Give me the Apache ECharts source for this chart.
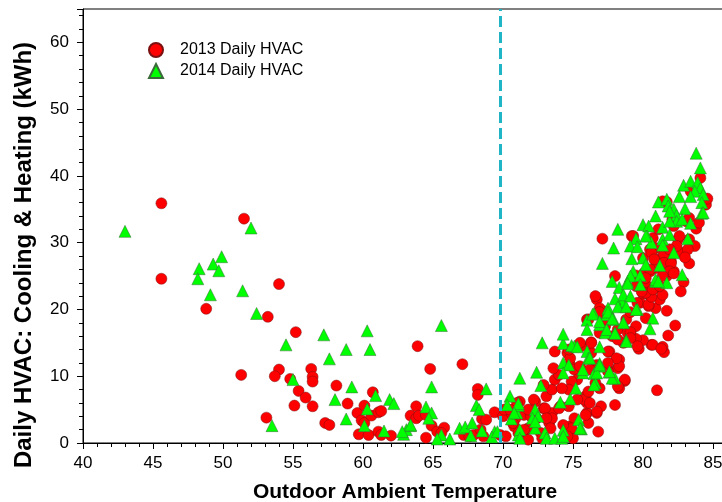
<!DOCTYPE html>
<html>
<head>
<meta charset="utf-8">
<title>Daily HVAC vs Outdoor Temperature</title>
<script src="https://cdn.jsdelivr.net/npm/echarts@6/dist/echarts.min.js"></script>
<style>
  html, body { margin: 0; padding: 0; background: #fff; }
  #chart { width: 722px; height: 502px; }
</style>
</head>
<body>
<div id="chart"></div>
<script>
// [temperature, kWh]
var cold2013 = [
  [45.6, 35.9], [45.6, 24.6], [48.8, 20.1], [51.5, 33.6], [54.0, 23.8], [53.2, 18.9],
  [55.2, 16.6], [51.3, 10.2], [54.0, 11.0], [53.7, 10.0], [54.8, 9.6], [56.3, 11.1],
  [56.4, 9.9], [56.4, 9.2], [55.4, 7.8], [55.9, 6.8], [55.1, 5.6], [56.4, 5.5],
  [53.1, 3.8], [57.3, 3.0], [57.6, 2.7], [58.1, 8.6], [58.9, 5.9], [59.6, 4.5],
  [60.1, 5.6], [59.9, 3.4], [60.1, 3.0], [60.6, 4.1], [61.1, 4.6], [61.3, 4.8],
  [59.7, 1.3], [60.4, 1.2], [61.1, 1.7], [61.3, 1.2], [62.0, 1.1], [63.4, 4.1],
  [63.8, 3.7], [63.9, 14.5], [64.8, 11.1], [67.1, 11.8], [60.7, 7.6], [63.8, 5.5],
  [64.0, 4.1], [64.5, 4.2], [64.9, 2.6], [65.3, 1.7], [65.8, 2.3], [64.5, 0.8],
  [68.2, 8.1], [68.2, 7.2], [68.5, 3.6], [68.8, 3.5], [69.4, 4.6], [67.2, 1.2],
  [67.6, 1.0], [67.9, 1.2], [68.6, 1.0], [68.4, 2.0], [69.8, 1.2], [65.6, 1.5]
];
var warm2013 = [
  [70.2, 1.0], [70.0, 4.0], [70.6, 4.5], [70.9, 3.7], [71.2, 6.2], [70.8, 2.5],
  [71.5, 1.7], [70.1, 5.0], [70.7, 3.0], [71.1, 1.5], [71.5, 4.2], [71.8, 0.5],
  [72.4, 3.7], [72.9, 5.2], [73.3, 3.0], [72.9, 1.0], [73.5, 4.5], [74.1, 5.5],
  [74.8, 2.5], [74.9, 1.0], [75.1, 3.7], [76.0, 4.5], [76.1, 3.0], [76.7, 4.5],
  [76.8, 1.7], [77.0, 5.5], [78.0, 5.7], [82.3, 17.6], [81.8, 16.1], [81.0, 7.9],
  [81.5, 13.6], [81.4, 14.4], [80.6, 14.7], [79.7, 14.1], [80.0, 15.4], [79.5, 15.6],
  [79.1, 16.6], [78.7, 9.3], [78.3, 8.2], [76.0, 6.0], [75.9, 4.2], [75.0, 0.7],
  [74.9, 2.2], [74.7, 5.5], [74.0, 5.2], [73.5, 3.7], [73.0, 5.2], [72.3, 6.2],
  [73.1, 7.0], [73.5, 8.0], [72.9, 8.7], [73.7, 9.5], [74.0, 10.2], [73.6, 11.2],
  [73.7, 13.7], [74.6, 13.5], [74.8, 11.7], [75.1, 11.0], [75.3, 9.5], [74.8, 12.7],
  [75.5, 11.5], [75.6, 14.5], [76.3, 15.1], [76.3, 13.5], [76.7, 11.7], [75.9, 7.0],
  [75.8, 6.5], [75.3, 6.5], [76.7, 4.7], [76.9, 8.2], [77.6, 13.7], [77.5, 11.0],
  [78.3, 12.5], [78.2, 11.2], [76.9, 16.5], [77.8, 16.0], [77.3, 17.5], [78.6, 15.0],
  [78.2, 17.0], [78.8, 18.5], [79.5, 17.5], [80.2, 18.7], [80.9, 20.2], [81.7, 19.8],
  [80.4, 20.5], [79.8, 21.0], [76.0, 18.5], [77.3, 19.7], [76.7, 21.5], [77.4, 18.5],
  [78.9, 16.5], [75.5, 15.0], [74.7, 14.0], [74.9, 9.2], [74.7, 8.0], [72.0, 4.0],
  [71.8, 2.2], [72.7, 1.5], [71.5, 2.0], [72.2, 6.5], [71.0, 6.0], [70.5, 5.0],
  [73.1, 3.7], [71.8, 5.0], [73.4, 2.2], [74.3, 2.7], [74.6, 1.0], [72.8, 0.7],
  [74.2, 8.2], [77.1, 30.6], [79.2, 31.0], [84.1, 39.7], [84.5, 35.7], [83.4, 37.7],
  [81.7, 36.1], [83.3, 30.5], [83.8, 32.1], [83.7, 29.5], [83.3, 26.9], [82.9, 24.1],
  [82.7, 22.7], [82.2, 25.7], [82.7, 28.5], [80.7, 30.7], [81.7, 28.2], [81.3, 27.7],
  [80.9, 26.2], [81.5, 26.0], [81.7, 25.0], [82.0, 27.2], [80.5, 29.0], [80.0, 27.7],
  [80.5, 25.7], [80.0, 25.0], [80.5, 22.0], [81.2, 21.5], [79.6, 21.0], [80.2, 22.7],
  [79.5, 23.5], [78.0, 25.0], [76.6, 22.0], [76.9, 20.2], [81.1, 32.0], [82.1, 33.5],
  [83.1, 33.2], [82.5, 30.5], [83.2, 29.0], [76.1, 18.5], [76.9, 19.6], [79.1, 16.6],
  [79.6, 14.5], [80.7, 14.7], [81.3, 14.1], [80.4, 20.7], [80.0, 22.4], [80.6, 21.9],
  [80.9, 23.2], [80.2, 23.7], [79.5, 25.1], [80.1, 25.5], [79.1, 19.6], [78.3, 11.5],
  [78.1, 12.7], [77.5, 13.7], [76.3, 15.0], [76.2, 11.0], [77.5, 10.7], [78.7, 9.5],
  [78.2, 8.5], [76.6, 9.0], [81.4, 36.2], [83.3, 33.7], [82.2, 32.5], [82.6, 31.0],
  [82.4, 29.5], [80.9, 29.2], [80.6, 28.5], [81.5, 28.2], [81.9, 29.0], [80.8, 27.5],
  [81.5, 27.0], [82.0, 26.9], [81.9, 25.7], [82.2, 25.4], [80.5, 26.0], [80.2, 24.7],
  [79.3, 31.0], [80.2, 22.5], [79.9, 22.7], [80.7, 23.0], [81.4, 22.2], [81.2, 23.5],
  [81.4, 25.0], [76.2, 6.0], [76.1, 7.7], [78.2, 15.5], [79.1, 15.7], [77.5, 12.0],
  [84.6, 36.6], [83.0, 27.8], [84.0, 33.0]
];
var cold2014 = [
  [43.0, 31.7], [48.3, 26.1], [48.2, 24.6], [49.3, 26.8], [49.9, 27.9], [49.7, 25.8],
  [49.1, 22.2], [51.4, 22.8], [52.0, 32.2], [52.4, 19.4], [54.5, 14.7], [57.2, 16.2],
  [57.6, 12.6], [55.0, 9.5], [58.0, 6.5], [53.5, 2.6], [58.8, 3.6], [60.3, 5.1],
  [60.1, 2.6], [61.5, 1.8], [61.9, 6.5], [62.2, 5.9], [62.9, 1.3], [63.1, 2.0],
  [63.4, 2.6], [60.3, 16.8], [65.6, 17.6], [58.8, 14.0], [60.5, 14.0], [59.2, 8.4],
  [60.9, 7.1], [64.9, 8.4], [64.5, 5.4], [64.9, 4.5], [64.7, 3.7], [65.6, 1.2],
  [65.3, 0.6], [66.2, 0.6], [66.9, 2.2], [67.3, 2.4], [67.8, 3.0], [67.7, 1.1],
  [68.5, 1.8], [68.1, 5.6], [68.3, 5.0], [68.8, 8.1], [69.4, 1.7], [69.2, 0.9],
  [62.8, 1.7], [63.4, 2.7], [69.6, 1.7]
];
var warm2014 = [
  [70.5, 7.0], [71.2, 9.7], [70.6, 3.6], [71.0, 4.5], [71.1, 5.6], [71.1, 1.2],
  [72.4, 10.6], [72.8, 15.0], [74.3, 14.9], [71.1, 5.9], [72.3, 5.0], [72.5, 4.0],
  [72.3, 2.2], [73.0, 1.5], [73.1, 0.7], [73.7, 0.7], [71.2, 2.0], [74.1, 6.1],
  [74.8, 6.6], [74.3, 1.9], [74.2, 0.7], [75.4, 3.5], [75.6, 2.1], [74.3, 12.0],
  [74.7, 11.7], [74.3, 10.5], [75.7, 10.5], [76.0, 13.7], [75.2, 8.2], [76.5, 10.4],
  [75.1, 14.5], [70.3, 5.7], [70.8, 4.5], [71.2, 0.7], [72.1, 3.7], [72.3, 3.2],
  [74.3, 16.3], [74.9, 14.6], [75.3, 14.4], [76.1, 12.7], [72.7, 8.6], [76.6, 9.0],
  [76.9, 11.9], [77.6, 10.6], [78.0, 9.7], [76.9, 14.4], [74.3, 1.0], [75.5, 2.2],
  [76.0, 18.4], [76.5, 19.4], [76.9, 17.7], [77.4, 19.2], [77.3, 16.5], [78.0, 16.5],
  [77.9, 18.5], [78.6, 18.1], [78.8, 15.4], [77.5, 20.0], [78.6, 20.5], [78.5, 21.2],
  [79.6, 20.0], [80.7, 18.7], [80.5, 17.1], [83.8, 43.4], [84.1, 41.2], [82.9, 38.6],
  [83.4, 39.2], [83.9, 39.0], [84.1, 38.2], [83.7, 37.7], [84.3, 37.2], [82.6, 36.9],
  [83.4, 36.9], [84.2, 36.0], [81.1, 36.1], [81.7, 36.5], [81.8, 35.5], [82.2, 35.0],
  [83.0, 35.1], [84.2, 34.4], [80.9, 34.0], [82.4, 34.1], [82.4, 33.2], [82.8, 33.5],
  [81.4, 32.3], [81.9, 33.2], [80.0, 32.7], [80.4, 32.5], [83.4, 32.9], [78.2, 32.0],
  [79.5, 30.6], [80.3, 31.0], [81.4, 30.5], [83.2, 30.6], [77.9, 29.2], [79.1, 29.5],
  [79.6, 29.4], [80.6, 30.0], [81.4, 29.6], [82.2, 28.5], [79.2, 27.6], [80.0, 27.7],
  [81.2, 26.6], [77.1, 26.9], [79.3, 25.7], [78.9, 24.2], [80.9, 24.2], [81.7, 24.0],
  [82.8, 25.2], [77.8, 24.2], [78.3, 23.3], [78.6, 22.2], [78.0, 21.6], [77.5, 20.2],
  [81.9, 34.7], [81.9, 31.2], [80.2, 31.0], [80.2, 26.7], [79.1, 25.0], [79.8, 25.1],
  [80.9, 24.5], [79.8, 23.7], [79.1, 22.0], [84.3, 34.5], [78.9, 23.9], [78.2, 20.4],
  [78.8, 20.4], [79.5, 20.0], [81.1, 24.2], [76.4, 19.3], [77.5, 19.6], [77.8, 18.6],
  [76.9, 18.2], [78.6, 18.0], [76.0, 17.0], [77.4, 17.0], [78.0, 16.4], [76.2, 12.7],
  [76.9, 11.5], [75.7, 11.0], [76.7, 10.5], [77.8, 9.7], [76.5, 8.7], [78.8, 15.2],
  [76.9, 11.7], [77.6, 10.7]
];
var xTicks = { min: 40, max: 86, step: 5 };
var yTicks = { min: 0, max: 65, step: 10 };
var splitTemp = 69.8;

var font = "'Liberation Sans', Arial, sans-serif";
var chart = echarts.init(document.getElementById("chart"));

chart.setOption({
  animation: false,
  grid: {
    left: 83, right: -5, top: 9, bottom: 59,
    outerBoundsMode: "none",
    containLabel: false,
    show: true, borderColor: "#000", borderWidth: 1
  },
  legend: {
    orient: "vertical",
    left: 143,
    top: 37,
    itemWidth: 14,
    itemHeight: 14,
    itemGap: 5,
    textStyle: { fontSize: 16, fontFamily: font, color: "#000", padding: [0, 0, 0, 12] },
    data: [
      { name: "2013 Daily HVAC", icon: "circle" },
      { name: "2014 Daily HVAC", icon: "triangle" }
    ]
  },
  xAxis: {
    type: "value",
    min: xTicks.min,
    max: xTicks.max,
    interval: xTicks.step,
    name: "Outdoor Ambient Temperature",
    nameLocation: "middle",
    nameGap: 39,
    nameTextStyle: { fontSize: 21, fontWeight: "bold", fontFamily: font, color: "#000" },
    axisLine: { lineStyle: { color: "#000", width: 1 } },
    axisTick: { inside: false, length: 6, lineStyle: { color: "#000" } },
    minorTick: { show: true, splitNumber: 5, length: 4, lineStyle: { color: "#000" } },
    axisLabel: { fontSize: 17, fontFamily: font, color: "#000", margin: 12, showMaxLabel: false },
    splitLine: { show: false }
  },
  yAxis: {
    type: "value",
    min: yTicks.min,
    max: yTicks.max,
    interval: yTicks.step,
    name: "Daily HVAC: Cooling & Heating (kWh)",
    nameLocation: "middle",
    nameGap: 47,
    nameTextStyle: { fontSize: 24, fontWeight: "bold", fontFamily: font, color: "#000", padding: [0, 58, 0, 0] },
    axisLine: { lineStyle: { color: "#000", width: 1 } },
    axisTick: { inside: false, length: 6, lineStyle: { color: "#000" } },
    minorTick: { show: true, splitNumber: 5, length: 4, lineStyle: { color: "#000" } },
    axisLabel: { fontSize: 17, fontFamily: font, color: "#000", margin: 14, showMaxLabel: false },
    splitLine: { show: false }
  },
  series: [
    {
      name: "2013 Daily HVAC",
      type: "scatter",
      symbol: "circle",
      symbolSize: 11,
      itemStyle: { color: "#ff0000", borderColor: "#7a1010", borderWidth: 0.5, opacity: 1 },
      data: cold2013.concat(warm2013),
      markLine: {
        silent: true,
        symbol: "none",
        label: { show: false },
        lineStyle: { color: "#1fb5c6", width: 3, type: [11, 5] },
        data: [{ xAxis: splitTemp }]
      }
    },
    {
      name: "2014 Daily HVAC",
      type: "scatter",
      symbol: "triangle",
      symbolSize: 12,
      itemStyle: { color: "#00ff00", borderColor: "#3a6a3a", borderWidth: 0.5, opacity: 1 },
      data: cold2014.concat(warm2014)
    }
  ]
});
</script>
</body>
</html>
